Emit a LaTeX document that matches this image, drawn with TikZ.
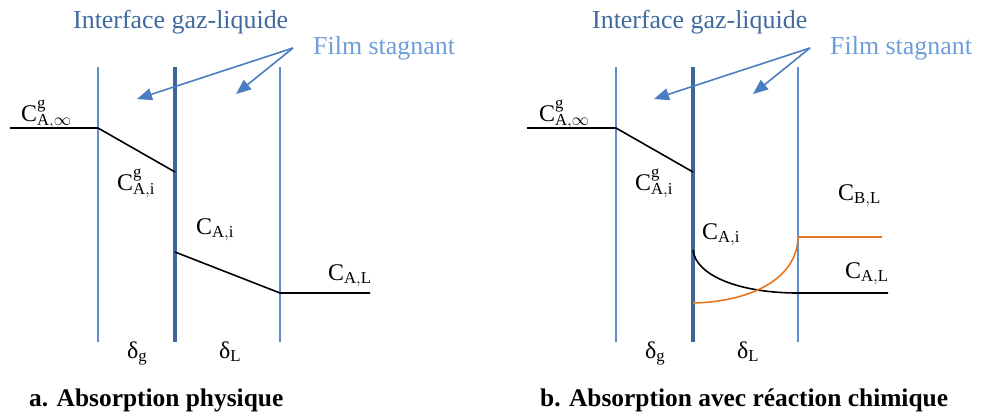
\documentclass[tikz,border=0pt]{standalone}
\usepackage{fontspec}
\setmainfont{Liberation Serif}
\usepackage{tikz}
\usetikzlibrary{arrows.meta,positioning,calc}
\definecolor{ifblue}{HTML}{3E6699}
\definecolor{lnblue}{HTML}{5B8FCF}
\definecolor{txblue}{HTML}{3F6A9E}
\definecolor{fmblue}{HTML}{6E9DD9}
\definecolor{arblue}{HTML}{4A7EC0}
\definecolor{orng}{HTML}{E8761E}

\begin{document}
\begin{tikzpicture}[x=1bp,y=-1bp,
  film/.style={draw=lnblue,line width=1.6bp},
  iface/.style={draw=ifblue,line width=3.8bp},
  prof/.style={draw=black,line width=1.6bp},
  profB/.style={draw=orng,line width=1.6bp},
  lab/.style={anchor=base west,inner sep=0pt,font=\fontsize{24}{26}\selectfont},
  ttl/.style={anchor=base west,inner sep=0pt,font=\fontsize{26}{28}\selectfont},
  caption/.style={anchor=base west,inner sep=0pt,font=\bfseries\fontsize{25.5}{28}\selectfont},
  arr/.style={draw=arblue,line width=1.6bp,-{Triangle[length=15bp,width=12bp]}}]
\useasboundingbox (0,0) rectangle (981,414);
% a. absorption physique
\coordinate(g1t) at (98,67); \coordinate(g1b) at (98,342);
\coordinate(i1t) at (175,67); \coordinate(i1b) at (175,342);
\coordinate(l1t) at (280,67); \coordinate(l1b) at (280,342);
\draw[film](g1t)--(g1b);
\draw[iface](i1t)--(i1b);
\draw[film](l1t)--(l1b);
\node[ttl,text=txblue](if1) at (73,28){Interface gaz-liquide};
\node[ttl,text=fmblue](fs1) at (313,54){Film stagnant};
\coordinate(t1) at (293,48);
\coordinate(h1a) at (137,99); \coordinate(h1b) at (236,94);
\draw[arr](t1)--(h1a);
\draw[arr](t1)--(h1b);
\coordinate(p1a) at (10,128); \coordinate(p1b) at (98,128); \coordinate(p1c) at (175,172);
\coordinate(p1d) at (175,252); \coordinate(p1e) at (280,293); \coordinate(p1f) at (370,293);
\draw[prof](p1a)--(p1b)--(p1c);
\draw[prof](p1d)--(p1e)--(p1f);
\node[lab](cg1) at (21,121){C$^{\mathrm{g}}_{\mathrm{A},\infty}$};
\node[lab](cgi1) at (117,190){C$^{\mathrm{g}}_{\mathrm{A,i}}$};
\node[lab](ci1) at (196,234){C$_{\mathrm{A,i}}$};
\node[lab](cl1) at (328,280){C$_{\mathrm{A,L}}$};
\node[lab](dg1) at (127,358){δ$_{\mathrm{g}}$};
\node[lab](dl1) at (219,358){δ$_{\mathrm{L}}$};
\node[caption](ta) at (29,406){a. Absorption physique};
% b. absorption avec reaction chimique
\coordinate(g2t) at (616,67); \coordinate(g2b) at (616,342);
\coordinate(i2t) at (693,67); \coordinate(i2b) at (693,342);
\coordinate(l2t) at (798,67); \coordinate(l2b) at (798,342);
\draw[film](g2t)--(g2b);
\draw[iface](i2t)--(i2b);
\draw[film](l2t)--(l2b);
\node[ttl,text=txblue](if2) at (592,28){Interface gaz-liquide};
\node[ttl,text=fmblue](fs2) at (830,54){Film stagnant};
\coordinate(t2) at (810,48);
\coordinate(h2a) at (654,99); \coordinate(h2b) at (753,94);
\draw[arr](t2)--(h2a);
\draw[arr](t2)--(h2b);
\coordinate(p2a) at (527,128); \coordinate(p2b) at (616,128); \coordinate(p2c) at (693,172);
\coordinate(p2d) at (693,250); \coordinate(p2e) at (798,293); \coordinate(p2f) at (888,293);
\coordinate(q2a) at (693,303); \coordinate(q2b) at (798,237); \coordinate(q2c) at (882,237);
\draw[prof](p2a)--(p2b)--(p2c);
\draw[prof](p2d) .. controls (696,276) and (740,293) .. (p2e)--(p2f);
\draw[profB](q2a) .. controls (745,302) and (797,282) .. (q2b)--(q2c);
\node[lab](cg2) at (539,121){C$^{\mathrm{g}}_{\mathrm{A},\infty}$};
\node[lab](cgi2) at (635,190){C$^{\mathrm{g}}_{\mathrm{A,i}}$};
\node[lab](cb2) at (838,200){C$_{\mathrm{B,L}}$};
\node[lab](ci2) at (702,239){C$_{\mathrm{A,i}}$};
\node[lab](cl2) at (845,278){C$_{\mathrm{A,L}}$};
\node[lab](dg2) at (645,358){δ$_{\mathrm{g}}$};
\node[lab](dl2) at (737,358){δ$_{\mathrm{L}}$};
\node[caption](tb) at (540,406){b. Absorption avec réaction chimique};
\end{tikzpicture}
\end{document}
